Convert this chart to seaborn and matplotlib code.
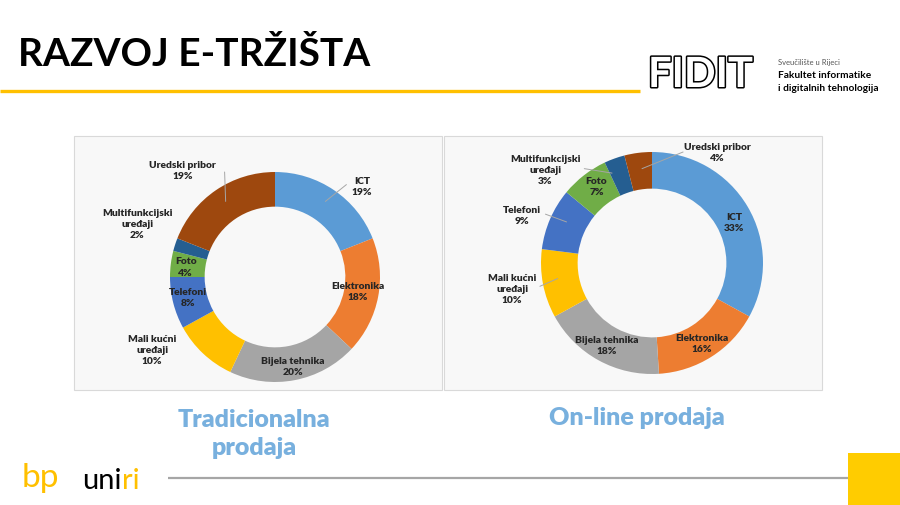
import matplotlib
matplotlib.use("Agg")
import matplotlib.pyplot as plt
import matplotlib.patheffects as pe
from matplotlib.patches import Rectangle
import numpy as np
import seaborn as sns

sns.set_theme(style="white")
plt.rcParams['font.family'] = ['Lato', 'DejaVu Sans']

# ---------------- data ----------------
categories = ["ICT", "Elektronika", "Bijela tehnika", "Mali kućni\nuređaji",
              "Telefoni", "Foto", "Multifunkcijski\nuređaji", "Uredski pribor"]
traditional = [19, 18, 20, 10, 8, 4, 2, 19]
online = [33, 16, 18, 10, 9, 7, 3, 4]
chart_titles = ["Tradicionalna\nprodaja", "On-line prodaja"]
slide_title = "RAZVOJ E-TRŽIŠTA"

colors = sns.color_palette(["#5B9BD5", "#ED7D31", "#A5A5A5", "#FFC000",
                            "#4472C4", "#70AD47", "#255E91", "#9E480E"])

# label placement (in donut radius units) - style only
left_label_pos = [(0.83, 0.87), (0.79, -0.13), (0.17, -0.85), (-1.17, -0.69),
                  (-0.83, -0.19), (-0.85, 0.10), (-1.31, 0.51), (-0.88, 1.02)]
right_label_pos = [(0.74, 0.37), (0.45, -0.72), (-0.41, -0.74), (-1.26, -0.23),
                   (-1.17, 0.43), (-0.50, 0.69), (-0.96, 0.84), (0.59, 1.0)]
left_leaders = {0: ((0.48, 0.72), (0.68, 0.88)), 7: ((-0.47, 0.72), (-0.48, 1.0))}
right_leaders = {7: ((-0.09, 0.85), (0.28, 1.0)), 6: ((-0.36, 0.81), (-0.61, 0.85)),
                 4: ((-0.77, 0.37), (-0.96, 0.44)), 3: ((-0.85, -0.14), (-1.01, -0.21))}

W, H = 900, 506
fig = plt.figure(figsize=(9, 5.06), dpi=100)
fig.patch.set_facecolor("white")

bg = fig.add_axes([0, 0, 1, 1])
bg.set_xlim(0, W)
bg.set_ylim(H, 0)
bg.axis("off")

# title & decorations
bg.text(18, 54, slide_title, fontsize=28, fontweight="bold", color="black",
        va="center", ha="left")
bg.plot([0, 640], [92, 92], color="#FFC000", lw=2.4, solid_capstyle="butt")

# FIDIT logo
bg.text(648, 76, "FIDIT", fontsize=30, fontweight="bold", color="white",
        va="center", ha="left",
        path_effects=[pe.Stroke(linewidth=2.2, foreground="black"), pe.Normal()])
bg.text(778, 62, "Sveučilište u Rijeci", fontsize=5.5, color="#555555", va="center")
bg.text(778, 75, "Fakultet informatike", fontsize=7.3, fontweight="bold",
        color="black", va="center")
bg.text(778, 88, "i digitalnih tehnologija", fontsize=7.3, fontweight="bold",
        color="black", va="center")

# chart panels
for x0, x1 in [(74, 442), (444, 822)]:
    bg.add_patch(Rectangle((x0, 137), x1 - x0, 254, facecolor="#F8F8F8",
                           edgecolor="#D9D9D9", lw=0.8))

# subtitles
sub_color = "#78B0DE"
bg.text(254, 434, chart_titles[0], fontsize=18, fontweight="heavy", color=sub_color,
        ha="center", va="center", linespacing=1.35)
bg.text(637, 418, chart_titles[1], fontsize=18, fontweight="heavy", color=sub_color,
        ha="center", va="center")

# bottom decorations
bg.plot([168, 848], [479, 479], color="#A6A6A6", lw=1.6, solid_capstyle="butt")
bg.add_patch(Rectangle((848, 454), 52, 52, facecolor="#FFCC00", edgecolor="none"))
bg.text(22, 478, "bp", fontsize=24, color="#FFC000", va="center", ha="left")
t_uni = bg.text(82, 481, "uni", fontsize=21, color="black", va="center", ha="left")
bg.annotate("ri", xy=(1, 0.5), xycoords=t_uni, xytext=(0.5, 0),
            textcoords="offset points", fontsize=21, color="#FFC000",
            va="center", ha="left")


def donut(cx, cy, r, values, label_pos, leaders):
    ax = fig.add_axes([(cx - r) / W, (H - cy - r) / H, 2 * r / W, 2 * r / H])
    ax.pie(values, colors=colors, startangle=90, counterclock=False,
           radius=1.0, wedgeprops=dict(width=0.33, edgecolor="none"))
    ax.set_xlim(-1, 1)
    ax.set_ylim(-1, 1)
    ax.set_aspect("equal")
    ax.axis("off")
    for i, (cat, v) in enumerate(zip(categories, values)):
        lx, ly = label_pos[i]
        ax.text(lx, ly, f"{cat}\n{v}%", ha="center", va="center", fontsize=7.4,
                fontweight="heavy", color="#262626", linespacing=1.3,
                clip_on=False)
    for i, (p0, p1) in leaders.items():
        ax.plot([p0[0], p1[0]], [p0[1], p1[1]], color="#A6A6A6", lw=0.7,
                clip_on=False)
    return ax


donut(275, 278, 105, traditional, left_label_pos, left_leaders)
donut(652, 264, 111, online, right_label_pos, right_leaders)

fig.savefig("out.png", dpi=100, facecolor="white")
